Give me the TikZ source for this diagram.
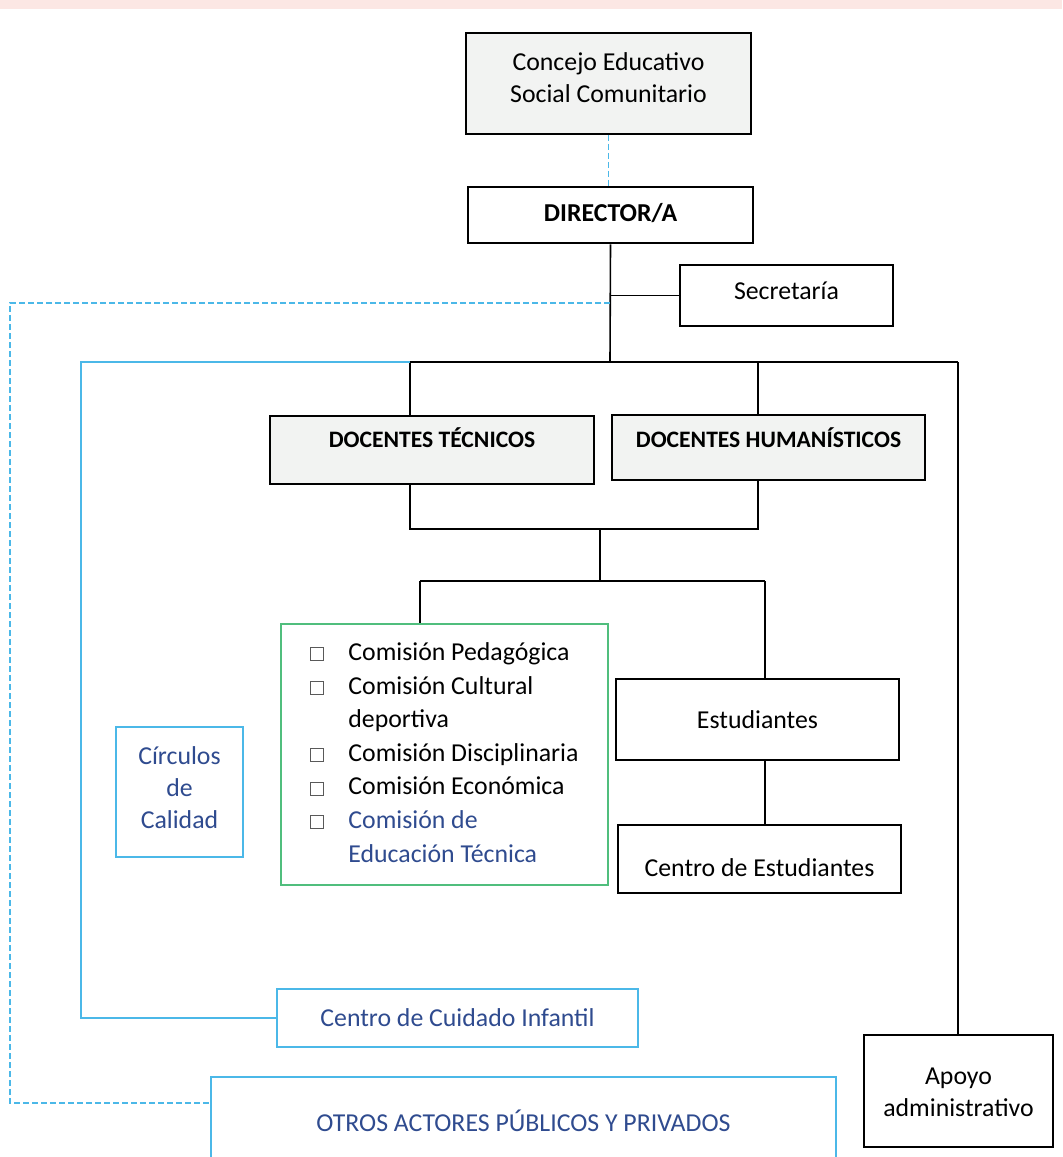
\documentclass[tikz,border=0pt]{standalone}
\usepackage{fontspec}
\setmainfont{Carlito}
\usetikzlibrary{positioning}
\definecolor{gris}{HTML}{F2F3F2}
\definecolor{celeste}{HTML}{4BB8E8}
\definecolor{azul}{HTML}{2F4B8F}
\definecolor{verde}{HTML}{50BE7D}
\definecolor{rosa}{HTML}{FCE7E4}
\newcommand{\casilla}{\textcolor{black!65}{\setlength{\fboxsep}{0pt}\setlength{\fboxrule}{0.5pt}\fbox{\rule{0pt}{6pt}\hspace{6pt}}}}

\begin{document}
\begin{tikzpicture}[x=0.5pt, y=-0.5pt,
	caja/.style = {draw, line width=0.8pt, inner sep=0pt, align=center, font=\fontsize{12.9}{16}\selectfont},
	gcaja/.style = {caja, fill=gris},
	acaja/.style = {caja, draw=celeste, text=azul},
	linea/.style = {line width=0.8pt},
	punteado/.style = {draw=celeste, line width=0.8pt, dash pattern=on 3pt off 1.5pt}]
	\path[use as bounding box, fill=white] (0,0) rectangle (1062,1157);
	\clip (0,0) rectangle (1062,1157);
	\fill[rosa] (0,0) rectangle (1062,9);
	\node[gcaja, minimum width=142.5pt, minimum height=50.5pt, text depth=6pt] (1) at (608.5,83.5) {Concejo Educativo\\Social Comunitario};
	\node[caja, line width=1.3pt, minimum width=142.5pt, minimum height=28pt, text depth=3pt, font=\fontsize{12.9}{16}\selectfont\bfseries] (2) at (610.5,215) {DIRECTOR/A};
	\node[caja, minimum width=106.5pt, minimum height=30.5pt, text depth=4.5pt] (3) at (786.5,295.5) {Secretaría};
	\node[gcaja, minimum width=162pt, minimum height=34pt, text depth=12pt, font=\fontsize{11.8}{14}\selectfont\bfseries] (4) at (432,450) {DOCENTES TÉCNICOS};
	\node[gcaja, minimum width=156.5pt, minimum height=32.5pt, text depth=9.5pt, font=\fontsize{11.8}{14}\selectfont\bfseries] (5) at (768.5,447.5) {DOCENTES HUMANÍSTICOS};
	\node[caja, draw=verde, minimum width=163.5pt, minimum height=130.5pt] (6) at (444.5,754.5) {%
		{\renewcommand{\arraystretch}{1.05}%
		\begin{tabular}{@{}p{19pt}@{}l@{}}
			\casilla & Comisión Pedagógica\\
			\casilla & Comisión Cultural\\
			& deportiva\\
			\casilla & Comisión Disciplinaria\\
			\casilla & Comisión Económica\\
			\casilla & \color{azul}Comisión de\\
			& \color{azul}Educación Técnica
		\end{tabular}}};
	\node[caja, minimum width=141.5pt, minimum height=40.5pt] (7) at (757.5,719.5) {Estudiantes};
	\node[caja, minimum width=141.5pt, minimum height=34pt, text height=18pt] (8) at (759.5,859) {Centro de Estudiantes};
	\node[acaja, minimum width=63.5pt, minimum height=65pt, text depth=4.5pt] (9) at (179.5,792) {Círculos\\de\\Calidad};
	\node[acaja, minimum width=180.5pt, minimum height=29pt] (10) at (457.5,1018) {Centro de Cuidado Infantil};
	\node[acaja, minimum width=312.5pt, minimum height=44pt] (11) at (523.5,1121) {OTROS ACTORES PÚBLICOS Y PRIVADOS};
	\node[caja, minimum width=94.5pt, minimum height=56pt, text height=25.5pt] (12) at (958.5,1091) {Apoyo\\administrativo};
	% puntos de quiebre
	\coordinate (r1) at (610,362);
	\coordinate (t1) at (410,362);
	\coordinate (t2) at (758,362);
	\coordinate (t3) at (958,362);
	\coordinate (u1) at (410,529);
	\coordinate (u2) at (758,529);
	\coordinate (v0) at (600,529);
	\coordinate (v1) at (600,581);
	\coordinate (w1) at (420,581);
	\coordinate (w2) at (765,581);
	\coordinate (b1) at (81,362);
	\coordinate (d0) at (610,303);
	\coordinate (d1) at (10,303);
	\coordinate (d2) at (10,1103);
	\draw[punteado] (1.south) -- (1.south |- 2.north);
	\draw[linea] (2.south) -- (r1);
	\draw[linea] (3.west) -- (3.west -| r1);
	\draw[linea] (t1) -- (t3);
	\draw[linea] (t1) -- (t1 |- 4.north);
	\draw[linea] (t2) -- (t2 |- 5.north);
	\draw[linea] (t3) -- (t3 |- 12.north);
	\draw[linea] (u1 |- 4.south) -- (u1) -- (u2) -- (u2 |- 5.south);
	\draw[linea] (v0) -- (v1);
	\draw[linea] (w1) -- (w2);
	\draw[linea] (w1) -- (w1 |- 6.north);
	\draw[linea] (w2) -- (w2 |- 7.north);
	\draw[linea] (w2 |- 7.south) -- (w2 |- 8.north);
	\draw[linea, celeste] (t1) -- (b1) -- (b1 |- 10.west) -- (10.west);
	\draw[punteado] (d0) -- (d1) -- (d2) -- (d2 -| 11.west);
\end{tikzpicture}
\end{document}
